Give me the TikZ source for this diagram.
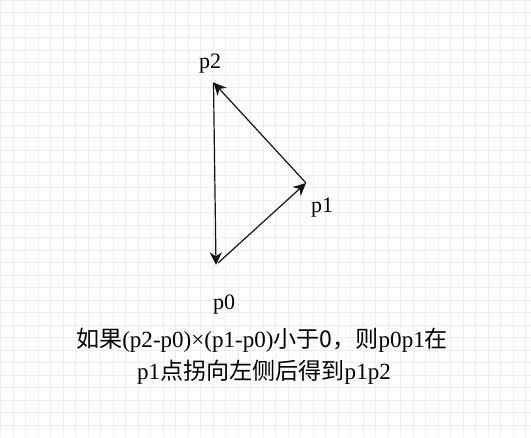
\documentclass[tikz,border=0pt]{standalone}
\usepackage{fontspec}
\setmainfont{Liberation Serif}
\newfontfamily\cjk{Noto Sans CJK SC}
\usetikzlibrary{arrows.meta}
\definecolor{gridc}{RGB}{238,238,238}
\definecolor{linec}{RGB}{20,20,20}
\tikzset{
  gridline/.style={draw=gridc, line width=0.75pt},
  vec/.style={draw=linec, line width=0.9pt, -{Stealth[length=9.5pt,width=9pt,inset=3pt]}},
  lbl/.style={font=\fontsize{16.5pt}{19pt}\selectfont, inner sep=0pt, anchor=base},
  note/.style={font=\fontsize{17.3pt}{24pt}\selectfont, inner sep=0pt, align=center, anchor=base}
}
\begin{document}
\begin{tikzpicture}[x=0.75pt,y=-0.75pt]
\useasboundingbox (0,0) rectangle (531,437);
\fill[white] (0,0) rectangle (531,437);
\foreach \i in {0,...,42} { \draw[gridline] ({0.7+12.5*\i},0) -- ({0.7+12.5*\i},437); }
\foreach \j in {0,...,34} { \draw[gridline] (0,{12.5*\j}) -- (531,{12.5*\j}); }
\coordinate (P0) at (216,265);
\coordinate (P0s) at (218,263);
\coordinate (P1) at (306,183);
\coordinate (P2) at (213.5,82.5);
\draw[vec] (P0s) -- (P1);
\draw[vec] (P1) -- (P2);
\draw[vec] (P2) -- (P0);
\node[lbl] (l2) at (210,68) {p2};
\node[lbl] (l1) at (322,212) {p1};
\node[lbl] (l0) at (224,309) {p0};
\node[note] (n1) at (262,347) {{\cjk 如果}(p2-p0)×(p1-p0){\cjk 小于0，则}p0p1{\cjk 在}};
\node[note] (n2) at (264,379) {p1{\cjk 点拐向左侧后得到}p1p2};
\end{tikzpicture}
\end{document}
